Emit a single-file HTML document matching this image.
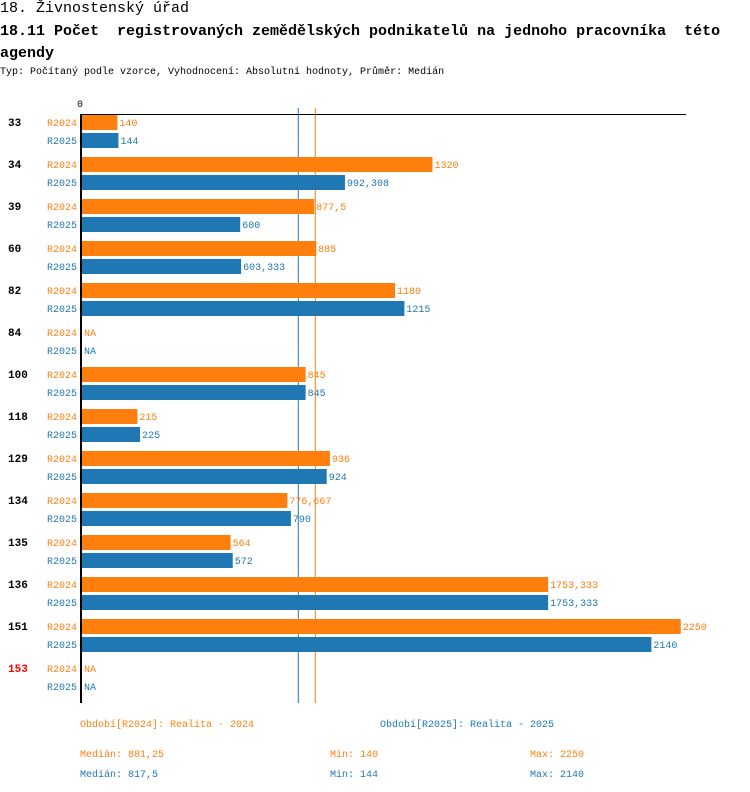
<!DOCTYPE html>
<html><head><meta charset="utf-8"><style>
body{margin:0;background:#fff;width:750px;height:792px;overflow:hidden;font-family:"Liberation Mono","DejaVu Sans Mono",monospace;}
.t{position:absolute;white-space:nowrap;}
</style></head><body>
<div class="t" style="left:0;top:0;font-size:15px;line-height:18px;">18. Živnostenský úřad</div>
<div class="t" style="left:0;top:21px;font-size:15px;line-height:22px;font-weight:bold;white-space:normal;width:740px;">18.11 Počet&nbsp; registrovaných zemědělských podnikatelů na jednoho pracovníka&nbsp; této agendy</div>
<div class="t" style="left:0;top:67px;font-size:10px;">Typ: Počítaný podle vzorce, Vyhodnocení: Absolutní hodnoty, Průměr: Medián</div>
<svg id="chart" width="750" height="792" style="position:absolute;left:0;top:0" font-family="Liberation Mono, DejaVu Sans Mono, monospace" font-size="10"></svg>
<script>
const categories=["33","34","39","60","82","84","100","118","129","134","135","136","151","153"];
const labels2024=["140","1320","877,5","885","1180","NA","845","215","936","776,667","564","1753,333","2250","NA"];
const labels2025=["144","992,308","600","603,333","1215","NA","845","225","924","790","572","1753,333","2140","NA"];
const values2024=[140,1320,877.5,885,1180,null,845,215,936,776.667,564,1753.333,2250,null];
const values2025=[144,992.308,600,603.333,1215,null,845,225,924,790,572,1753.333,2140,null];
const median2024=881.25, median2025=817.5;
const highlighted=["153"];
const O="#ff7f0e",B="#1f77b4",NS="http://www.w3.org/2000/svg";
const svg=document.getElementById('chart');
const x=v=>80+v*0.267;
function el(tag,attrs,text){const e=document.createElementNS(NS,tag);for(const k in attrs)e.setAttribute(k,attrs[k]);if(text!=null)e.textContent=text;svg.appendChild(e);return e;}
let m1=el('line',{x1:x(median2025),x2:x(median2025),y1:108,y2:703,stroke:B,'stroke-width':1});


let m2=el('line',{x1:x(median2024),x2:x(median2024),y1:108,y2:703,stroke:O,'stroke-width':1});


let t=el('text',{x:77,y:107},'0');


categories.forEach((c,i)=>{
  const y=115+42*i;
  let g=el('text',{x:8,y:y+11,'font-weight':'bold','font-size':11,fill:highlighted.includes(c)?'#f00':'#000'},c);
  
  
  [[values2024,labels2024,O,'R2024',0],[values2025,labels2025,B,'R2025',18]].forEach(([vals,labs,col,nm,off])=>{
    let l=el('text',{x:47,y:y+off+11,fill:col},nm);
    
    
    const v=vals[i];let end=82;
    if(v!=null){
      const r=el('rect',{x:82,y:y+off,width:x(v)-82,height:15,fill:col});
      
      
      end=x(v);
    }
    let vl=el('text',{x:end+2,y:y+off+11,fill:col},labs[i]);
    
    
  });
});
let ax=el('line',{x1:80,x2:686,y1:114.5,y2:114.5,stroke:'#000','stroke-width':1});


let ay=el('line',{x1:81,x2:81,y1:114,y2:703,stroke:'#000','stroke-width':2});


const legend=[[80,727,O,'Období[R2024]: Realita - 2024'],[380,727,B,'Období[R2025]: Realita - 2025'],
[80,757,O,'Medián: 881,25'],[330,757,O,'Min: 140'],[530,757,O,'Max: 2250'],
[80,777,B,'Medián: 817,5'],[330,777,B,'Min: 144'],[530,777,B,'Max: 2140']];
legend.forEach(([lx,ly,c,s])=>{const e=el('text',{x:lx,y:ly,fill:c},s);

});
</script>
</body></html>
